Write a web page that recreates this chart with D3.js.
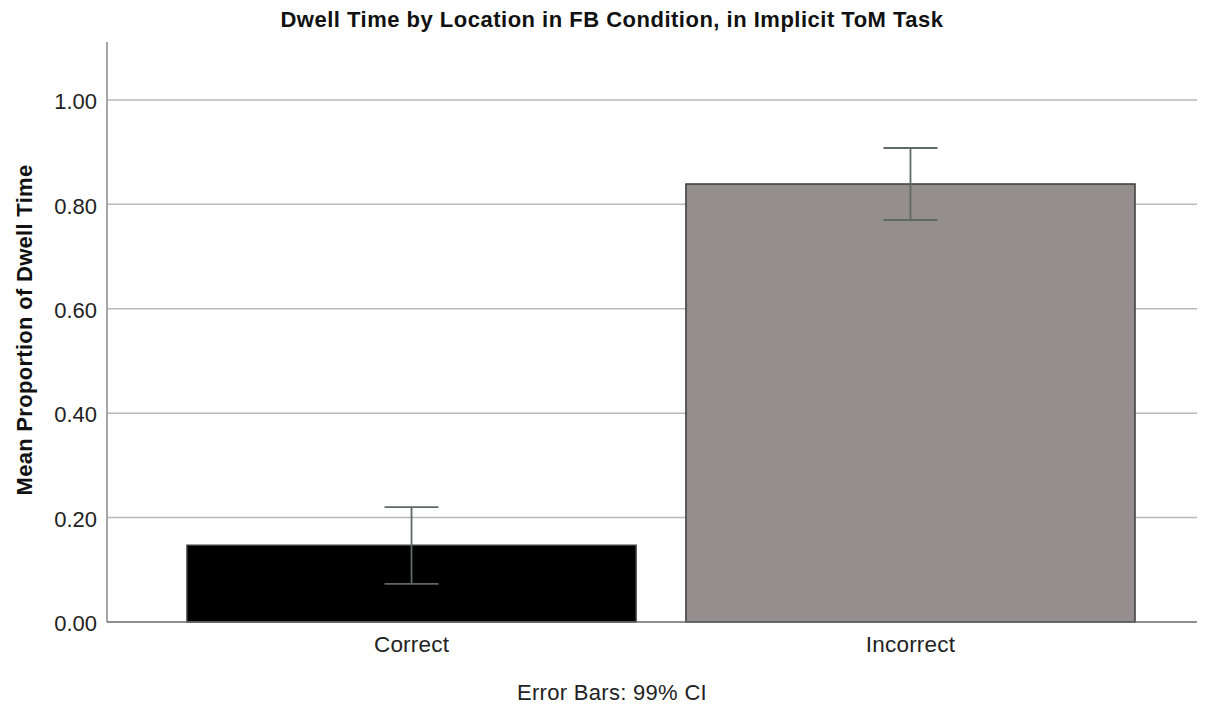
<!DOCTYPE html>
<html>
<head>
<meta charset="utf-8">
<script src="https://cdn.jsdelivr.net/npm/d3@7"></script>
<style>
  body { margin: 0; background: #fff; }
  svg text { font-family: "Liberation Sans", Arial, sans-serif; }
</style>
</head>
<body>
<svg id="chart" width="1212" height="707"></svg>
<script>
const categories = ['Correct', 'Incorrect']
const means = [0.147, 0.839]
const ciLow = [0.073, 0.770]
const ciHigh = [0.220, 0.908]
const barColors = ['#000000', '#948f8e']
const yTicks = [0, 0.2, 0.4, 0.6, 0.8, 1.0]

const width = 1212
const height = 707
const plotLeft = 107
const plotRight = 1197
const plotTop = 42
const plotBottom = 622

const svg = d3.select('#chart')

const y = d3.scaleLinear().domain([0, 1.111]).range([plotBottom, plotTop])
const x = d3.scaleBand().domain(categories).range([187, 1135]).paddingInner(0.1).paddingOuter(0)

// gridlines
svg.append('g').selectAll('line').data(yTicks.filter(d => d > 0)).enter().append('line')
    .attr('x1', plotLeft).attr('x2', plotRight)
    .attr('y1', d => y(d)).attr('y2', d => y(d))
    .attr('stroke', '#b9b9b9').attr('stroke-width', 1.5)

// bars
svg.append('g').selectAll('rect').data(categories).enter().append('rect')
    .attr('x', d => x(d))
    .attr('y', (d, i) => y(means[i]))
    .attr('width', x.bandwidth())
    .attr('height', (d, i) => y(0) - y(means[i]))
    .attr('fill', (d, i) => barColors[i])
    .attr('stroke', '#3a3a3a').attr('stroke-width', 1.5)

// error bars
const eb = svg.append('g').attr('stroke', '#5f6965').attr('stroke-width', 1.8)
categories.forEach((c, i) => {
    const cx = x(c) + x.bandwidth() / 2
    eb.append('line').attr('x1', cx).attr('x2', cx).attr('y1', y(ciLow[i])).attr('y2', y(ciHigh[i]))
    eb.append('line').attr('x1', cx - 27).attr('x2', cx + 27).attr('y1', y(ciLow[i])).attr('y2', y(ciLow[i]))
    eb.append('line').attr('x1', cx - 27).attr('x2', cx + 27).attr('y1', y(ciHigh[i])).attr('y2', y(ciHigh[i]))
})

// y axis
const yAxis = svg.append('g').attr('transform', `translate(${plotLeft},0)`)
    .call(d3.axisLeft(y).tickValues(yTicks).tickFormat(d3.format('.2f')).tickSize(0).tickPadding(10))
yAxis.select('.domain').remove()
yAxis.selectAll('text').attr('font-size', 22).attr('fill', '#222').attr('dy', '0.4em')
    .attr('font-family', '"Liberation Sans", Arial, sans-serif')

// x axis
const xAxis = svg.append('g').attr('transform', `translate(0,${plotBottom})`)
    .call(d3.axisBottom(x).tickSize(0).tickPadding(0))
xAxis.select('.domain').remove()
xAxis.selectAll('text').attr('font-size', 22.5).attr('fill', '#222')
    .attr('dy', null).attr('y', 30).attr('letter-spacing', 0.2)
    .attr('font-family', '"Liberation Sans", Arial, sans-serif')

// axis lines
svg.append('line').attr('x1', plotLeft).attr('x2', plotLeft).attr('y1', plotTop).attr('y2', plotBottom)
    .attr('stroke', '#8a8a8a').attr('stroke-width', 1.5)
svg.append('line').attr('x1', plotLeft).attr('x2', plotRight).attr('y1', plotBottom).attr('y2', plotBottom)
    .attr('stroke', '#6a6a6a').attr('stroke-width', 1.5)

// title
svg.append('text').text('Dwell Time by Location in FB Condition, in Implicit ToM Task')
    .attr('x', 612).attr('y', 27).attr('text-anchor', 'middle')
    .attr('font-size', 22).attr('font-weight', 'bold').attr('fill', '#111')
    .attr('letter-spacing', 0.5)

// y label
svg.append('text').text('Mean Proportion of Dwell Time')
    .attr('transform', 'translate(32,330) rotate(-90)')
    .attr('text-anchor', 'middle')
    .attr('font-size', 22).attr('font-weight', 'bold').attr('fill', '#111')
    .attr('letter-spacing', 0.3)

// footnote
svg.append('text').text('Error Bars: 99% CI')
    .attr('x', 612).attr('y', 700).attr('text-anchor', 'middle')
    .attr('font-size', 22).attr('fill', '#222').attr('letter-spacing', 0.3)
</script>
</body>
</html>
